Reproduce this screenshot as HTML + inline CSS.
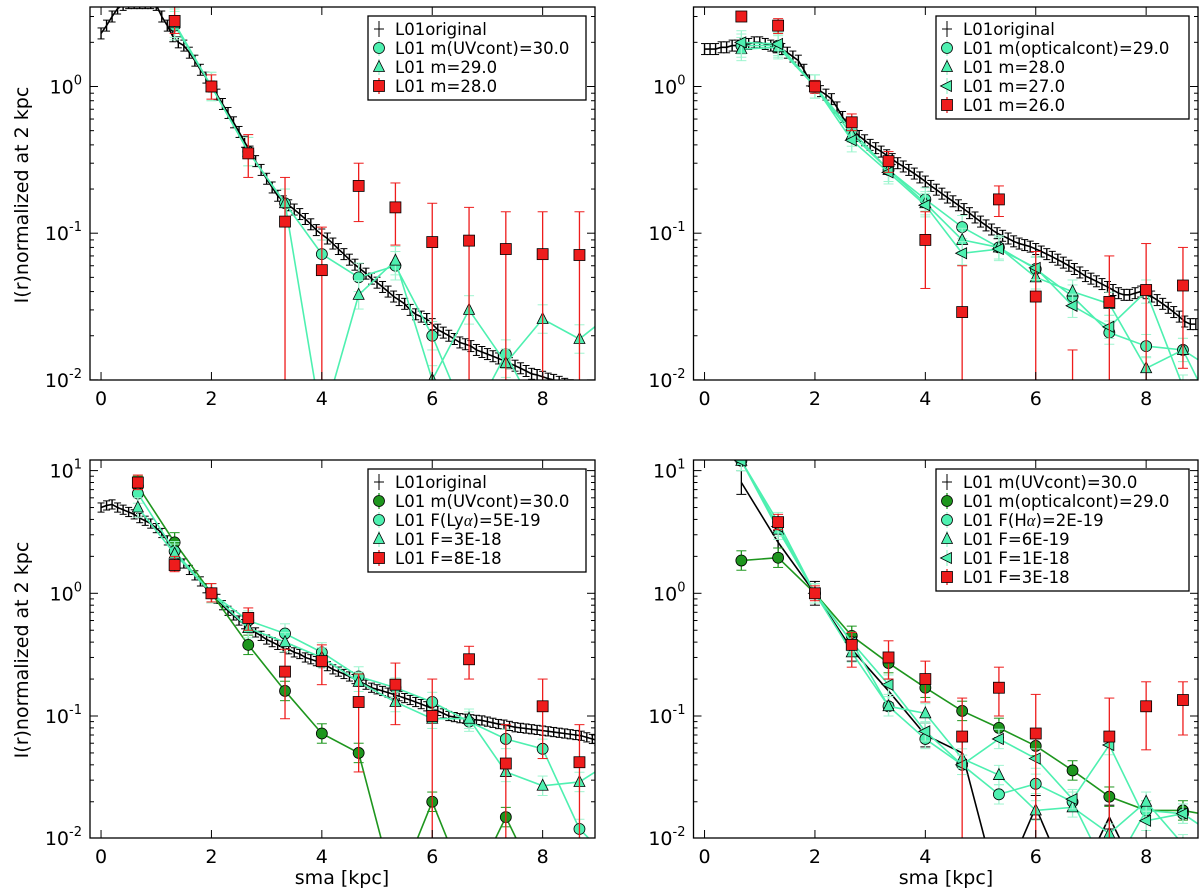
<!DOCTYPE html>
<html><head><meta charset="utf-8"><style>
html,body{margin:0;background:#fff;overflow:hidden;width:1200px;height:894px;}
svg{display:block;font-family:"DejaVu Sans","Liberation Sans",sans-serif;overflow:hidden;}
</style></head><body>
<svg id="fig" width="1200" height="894" viewBox="0 0 1200 894" xmlns="http://www.w3.org/2000/svg"></svg>
<script>
// ---------- data ----------
const xRed = [0.667,1.333,2,2.667,3.333,4,4.667,5.333,6,6.667,7.333,8,8.667,9.333];
const xTicks = [0,2,4,6,8];
// TL
const tlOrig = [2.3,2.6,3.0,3.4,3.6,3.7,3.7,3.7,3.7,3.7,3.6,3.0,2.6,2.2,2.0,1.9,1.7,1.5,1.3,1.15,1.0,0.88,0.76,0.66,0.57,0.49,0.42,0.36,0.31,0.27,0.235,0.205,0.18,0.165,0.155,0.145,0.135,0.125,0.115,0.105,0.098,0.092,0.085,0.078,0.072,0.066,0.061,0.057,0.053,0.049,0.046,0.043,0.04,0.037,0.035,0.033,0.03,0.028,0.027,0.026,0.024,0.022,0.021,0.02,0.019,0.018,0.0175,0.017,0.016,0.0155,0.015,0.0145,0.014,0.0135,0.013,0.0125,0.012,0.0115,0.011,0.0108,0.0105,0.0102,0.01,0.0097,0.0094,0.0092];
const tlCirc = [null,2.6,1.0,0.36,0.16,0.072,0.05,0.06,0.02,0.005,0.015,0.005,0.005];
const tlTri = [null,2.7,1.0,0.36,0.16,0.005,0.038,0.065,0.01,0.03,0.013,0.026,0.019,0.03];
const tlRed = [null,2.8,1.0,0.35,0.12,0.056,0.21,0.15,0.087,0.089,0.078,0.072,0.071];
const tlRedHi = [null,3.5,1.2,0.47,0.24,0.11,0.3,0.22,0.16,0.15,0.14,0.14,0.14];
const tlRedLo = [null,2.3,0.82,0.24,0.001,0.001,0.12,0.083,0.001,0.001,0.001,0.001,0.001];
// TR
const trOrig = [1.8,1.8,1.8,1.85,1.85,1.9,1.9,1.95,1.95,2.0,2.0,1.95,1.9,1.85,1.8,1.7,1.6,1.5,1.3,1.1,0.98,0.93,0.88,0.82,0.72,0.62,0.55,0.5,0.46,0.43,0.4,0.38,0.36,0.34,0.32,0.3,0.285,0.27,0.255,0.24,0.225,0.21,0.198,0.186,0.175,0.165,0.155,0.146,0.137,0.128,0.12,0.113,0.106,0.1,0.096,0.092,0.088,0.085,0.083,0.081,0.078,0.075,0.072,0.069,0.066,0.063,0.06,0.057,0.054,0.051,0.049,0.047,0.045,0.043,0.041,0.039,0.038,0.038,0.039,0.04,0.039,0.037,0.035,0.033,0.031,0.029,0.027,0.025,0.024,0.024];
const trCirc = [1.9,1.9,1.0,0.5,0.27,0.17,0.11,0.08,0.057,0.037,0.021,0.017,0.016,0.005];
const trTri = [1.8,1.85,1.0,0.47,0.27,0.16,0.09,0.08,0.05,0.04,0.033,0.012,0.016,0.011];
const trLTri = [2.0,1.95,1.0,0.43,0.26,0.155,0.073,0.078,0.058,0.032,0.023,0.04,0.009];
const trRed = [3.0,2.6,1.0,0.57,0.31,0.09,0.029,0.17,0.037,0.004,0.034,0.041,0.044];
const trRedHi = [null,2.9,1.1,0.65,0.36,0.14,0.06,0.21,0.075,0.016,0.07,0.085,0.08];
const trRedLo = [null,2.3,0.9,0.5,0.26,0.042,0.001,0.13,0.001,0.001,0.001,0.001,0.012];
// BL
const blOrig = [5.0,5.2,5.3,5.0,4.8,4.6,4.4,4.1,3.9,3.7,3.4,3.1,2.7,2.3,2.0,1.75,1.55,1.4,1.25,1.1,1.0,0.9,0.8,0.72,0.66,0.6,0.56,0.52,0.48,0.45,0.42,0.4,0.38,0.36,0.35,0.33,0.32,0.3,0.29,0.28,0.27,0.255,0.24,0.23,0.22,0.21,0.2,0.19,0.18,0.17,0.165,0.16,0.155,0.15,0.145,0.14,0.135,0.13,0.125,0.12,0.115,0.11,0.105,0.1,0.098,0.096,0.095,0.094,0.093,0.092,0.09,0.088,0.086,0.085,0.083,0.081,0.08,0.079,0.078,0.077,0.076,0.075,0.074,0.073,0.072,0.071,0.07,0.069,0.067,0.065,0.063];
const blGreen = [7.5,2.6,1.0,0.38,0.16,0.072,0.05,0.002,0.02,0.002,0.015,0.002,0.002];
const blCirc = [6.5,2.2,1.0,0.6,0.47,0.33,0.21,0.17,0.13,0.09,0.065,0.054,0.012,0.006];
const blTri = [5.0,2.1,1.0,0.52,0.4,0.3,0.19,0.13,0.095,0.095,0.035,0.027,0.029,0.045];
const blRed = [8.0,1.7,1.0,0.63,0.23,0.28,0.13,0.18,0.1,0.29,0.041,0.12,0.042];
const blRedHi = [9.2,2.0,1.2,0.76,0.35,0.38,0.22,0.27,0.2,0.37,0.085,0.2,0.085];
const blRedLo = [7.0,1.5,0.85,0.5,0.095,0.18,0.035,0.085,0.001,0.2,0.001,0.045,0.001];
// BR
const brBlack = [8.0,2.6,1.0,0.35,0.16,0.07,0.05,0.003,0.018,0.003,0.015,0.003,0.003];
const brGreen = [1.85,1.95,1.0,0.45,0.27,0.17,0.11,0.08,0.057,0.036,0.022,0.017,0.017,0.015];
const brCirc = [12,3.8,1.0,0.4,0.12,0.065,0.04,0.023,0.028,0.02,0.005,0.017,0.016];
const brTri = [12,3.3,1.0,0.33,0.12,0.105,0.045,0.033,0.017,0.018,0.011,0.02,0.009];
const brLTri = [12,3.5,1.0,0.4,0.18,0.075,0.04,0.065,0.045,0.021,0.058,0.014,0.016,0.01];
const brRed = [null,3.8,1.0,0.38,0.3,0.2,0.068,0.17,0.072,null,0.068,0.12,0.135];
const brRedHi = [null,4.4,1.15,0.48,0.41,0.28,0.14,0.25,0.15,null,0.14,0.19,0.19];
const brRedLo = [null,3.3,0.87,0.25,0.2,0.13,0.001,0.1,0.001,null,0.001,0.053,0.07];

const CY='#4ef0b0', CYE='#9ef5cf', RD='#ee1c1c', GR='#1e961e';
const NS='http://www.w3.org/2000/svg';
const svg=document.getElementById('fig');
function el(tag,attrs,parent){const e=document.createElementNS(NS,tag);for(const k in attrs)e.setAttribute(k,attrs[k]);(parent||svg).appendChild(e);return e;}

function panel(id,left,right,top,bottom,y0,dec,decMin,decMax){
  const xz=left+0.2*55.2;
  const g=el('g',{});
  
  
  const cp=el('clipPath',{id:'c'+id},g);
  el('rect',{x:left,y:top,width:right-left,height:bottom-top},cp);
  const P={left,right,top,bottom,g,
    X:v=>xz+v*55.2,
    Y:v=>Math.min(893,y0-Math.log10(Math.max(v,1e-6))*dec)};
  P.plot=el('g',{'clip-path':'url(#c'+id+')'},g);
  const tg=el('g',{stroke:'#000','stroke-width':1},g);
  xTicks.forEach(t=>{const x=P.X(t);
    el('line',{x1:x,x2:x,y1:bottom,y2:bottom-8},tg);el('line',{x1:x,x2:x,y1:top,y2:top+8},tg);
    const lb=el('text',{x:x,y:bottom+25,'text-anchor':'middle','font-size':19},g);lb.textContent=t;
    
    
  });
  for(let d=decMin;d<=decMax;d++){
    for(let m=1;m<10;m++){const v=m*Math.pow(10,d);let y=P.Y(v);
      if(y<top-2||y>bottom+2)continue;
      y=Math.min(Math.max(y,top),bottom);
      const L=m===1?8:4;
      el('line',{x1:left,x2:left+L,y1:y,y2:y},tg);el('line',{x1:right,x2:right-L,y1:y,y2:y},tg);
      if(m===1){const t=el('text',{x:left-8,y:y+7,'text-anchor':'end','font-size':19},g);
        
        
        t.innerHTML='10<tspan dy="-9" font-size="13">'+d+'</tspan>';}
    }
  }
  el('rect',{x:left,y:top,width:right-left,height:bottom-top,fill:'none',stroke:'#000','stroke-width':1.3},g);
  return P;
}
function marker(P,type,x,y,color,parent){
  const p=parent||P.plot;let m;
  const s=5.5;
  if(type==='o')m=el('circle',{cx:x,cy:y,r:s},p);
  else if(type==='s')m=el('rect',{x:x-s,y:y-s,width:2*s,height:2*s},p);
  else if(type==='^')m=el('polygon',{points:`${x},${y-s-1} ${x-s},${y+s-1} ${x+s},${y+s-1}`},p);
  else if(type==='<')m=el('polygon',{points:`${x-s-1},${y} ${x+s-1},${y-s} ${x+s-1},${y+s}`},p);
  m.setAttribute('fill',color);m.setAttribute('stroke','#000');m.setAttribute('stroke-width',0.8);
  return m;
}
function series(P,name,xs,ys,type,color,opts){
  const g=el('g',{},P.plot);
  
  
  const pts=[];xs.forEach((x,i)=>{if(ys[i]!=null&&i<ys.length)pts.push([P.X(x),P.Y(ys[i]),i]);});
  if(opts.err){pts.forEach(([x,y,i])=>{const hi=opts.hi?opts.hi[i]:ys[i]*(1+opts.err),lo=opts.lo?opts.lo[i]:ys[i]/(1+opts.err);
    if(hi==null)return;const y1=P.Y(hi),y2=Math.min(P.Y(lo),P.bottom+10);
    el('line',{x1:x,x2:x,y1:y1,y2:y2,stroke:opts.ec,'stroke-width':opts.ew||1.3},g);
    el('line',{x1:x-opts.cap,x2:x+opts.cap,y1:y1,y2:y1,stroke:opts.ec,'stroke-width':1},g);
    el('line',{x1:x-opts.cap,x2:x+opts.cap,y1:y2,y2:y2,stroke:opts.ec,'stroke-width':1},g);});}
  if(opts.line)el('polyline',{points:pts.map(p=>p[0]+','+p[1]).join(' '),fill:'none',stroke:opts.line,'stroke-width':opts.lw||1.6},g);
  if(type)pts.forEach(([x,y])=>{marker(P,type,x,y,color,g);});
}
function orig(P,vals){
  const xs=vals.map((_,i)=>i*0.1);
  series(P,'l01-original',xs,vals,null,'#000',{line:'#000',lw:1.6,err:0.09,ec:'#000',cap:3.5,ew:1.4});
}
function legend(P,x,y,w,entries,name){
  const g=el('g',{},P.g);
  
  
  el('rect',{x:x,y:y,width:w,height:entries.length*19+8,fill:'#fff',stroke:'#000','stroke-width':1.3},g);
  entries.forEach((e,i)=>{const cy=y+13+i*19,mx=x+11;
    if(e.t==='+'){el('line',{x1:mx,x2:mx,y1:cy-8,y2:cy+8,stroke:'#000'},g);el('line',{x1:mx-5,x2:mx+5,y1:cy,y2:cy,stroke:'#000'},g);}
    else {el('line',{x1:mx,x2:mx,y1:cy-8,y2:cy+8,stroke:e.ec,'stroke-width':1.3},g);marker(P,e.t,mx,cy,e.c,g);}
    const t=el('text',{x:x+27,y:cy+6,'font-size':16.5},g);t.innerHTML=e.l;
  });
}
const TL=panel('panel-top-left',90,595,7,380,86.5,146.7,-2,0);
orig(TL,tlOrig);
series(TL,'uvcont-30',xRed,tlCirc,'o',CY,{line:CY,err:0.25,ec:CYE,cap:5});
series(TL,'m-29',xRed,tlTri,'^',CY,{line:CY,err:0.25,ec:CYE,cap:5});
series(TL,'m-28',xRed,tlRed,'s',RD,{err:1,hi:tlRedHi,lo:tlRedLo,ec:RD,cap:5});
legend(TL,368,16,218,[{t:'+',l:'L01original'},{t:'o',c:CY,ec:CYE,l:'L01 m(UVcont)=30.0'},{t:'^',c:CY,ec:CYE,l:'L01 m=29.0'},{t:'s',c:RD,ec:RD,l:'L01 m=28.0'}],'legend-top-left');

const TR=panel('panel-top-right',693.5,1198,7,380,86.5,146.7,-2,0);
orig(TR,trOrig);
series(TR,'opticalcont-29',xRed,trCirc,'o',CY,{line:CY,err:0.2,ec:CYE,cap:5});
series(TR,'m-28',xRed,trTri,'^',CY,{line:CY,err:0.2,ec:CYE,cap:5});
series(TR,'m-27',xRed,trLTri,'<',CY,{line:CY,err:0.2,ec:CYE,cap:5});
series(TR,'m-26',xRed,trRed,'s',RD,{err:1,hi:trRedHi,lo:trRedLo,ec:RD,cap:5});
legend(TR,936,16,253,[{t:'+',l:'L01original'},{t:'o',c:CY,ec:CYE,l:'L01 m(opticalcont)=29.0'},{t:'^',c:CY,ec:CYE,l:'L01 m=28.0'},{t:'<',c:CY,ec:CYE,l:'L01 m=27.0'},{t:'s',c:RD,ec:RD,l:'L01 m=26.0'}],'legend-top-right');

const BL=panel('panel-bottom-left',90,595,460,838,593.3,122.7,-2,1);
orig(BL,blOrig);
series(BL,'uvcont-30',xRed,blGreen,'o',GR,{line:GR,err:0.2,ec:GR,cap:5});
series(BL,'f-lya-5e-19',xRed,blCirc,'o',CY,{line:CY,err:0.2,ec:CYE,cap:5});
series(BL,'f-3e-18',xRed,blTri,'^',CY,{line:CY,err:0.2,ec:CYE,cap:5});
series(BL,'f-8e-18',xRed,blRed,'s',RD,{err:1,hi:blRedHi,lo:blRedLo,ec:RD,cap:5});
legend(BL,368,469,218,[{t:'+',l:'L01original'},{t:'o',c:GR,ec:GR,l:'L01 m(UVcont)=30.0'},{t:'o',c:CY,ec:CYE,l:'L01 F(Ly<tspan font-family="Liberation Serif" font-style="italic">α</tspan>)=5E-19'},{t:'^',c:CY,ec:CYE,l:'L01 F=3E-18'},{t:'s',c:RD,ec:RD,l:'L01 F=8E-18'}],'legend-bottom-left');

const BR=panel('panel-bottom-right',693.5,1198,460,838,593.3,122.7,-2,1);
series(BR,'uvcont-30',xRed,brBlack,null,'#000',{line:'#000',err:0.25,ec:'#000',cap:5});
series(BR,'opticalcont-29',xRed,brGreen,'o',GR,{line:GR,err:0.2,ec:GR,cap:5});
series(BR,'f-ha-2e-19',xRed,brCirc,'o',CY,{line:CY,err:0.2,ec:CYE,cap:5});
series(BR,'f-6e-19',xRed,brTri,'^',CY,{line:CY,err:0.2,ec:CYE,cap:5});
series(BR,'f-1e-18',xRed,brLTri,'<',CY,{line:CY,err:0.2,ec:CYE,cap:5});
series(BR,'f-3e-18',xRed,brRed,'s',RD,{err:1,hi:brRedHi,lo:brRedLo,ec:RD,cap:5});
legend(BR,936,469,253,[{t:'+',l:'L01 m(UVcont)=30.0'},{t:'o',c:GR,ec:GR,l:'L01 m(opticalcont)=29.0'},{t:'o',c:CY,ec:CYE,l:'L01 F(H<tspan font-family="Liberation Serif" font-style="italic">α</tspan>)=2E-19'},{t:'^',c:CY,ec:CYE,l:'L01 F=6E-19'},{t:'<',c:CY,ec:CYE,l:'L01 F=1E-18'},{t:'s',c:RD,ec:RD,l:'L01 F=3E-18'}],'legend-bottom-right');

[195,650].forEach((cy,i)=>{const t=el('text',{x:0,y:0,'font-size':19,'text-anchor':'middle',transform:`translate(28,${cy}) rotate(-90)`});
  
  
  t.textContent='I(r)normalized at 2 kpc';});
[342,946].forEach((cx,i)=>{const t=el('text',{x:cx,y:884,'font-size':19,'text-anchor':'middle'});
  
  
  t.textContent='sma [kpc]';});
</script>
</body></html>
